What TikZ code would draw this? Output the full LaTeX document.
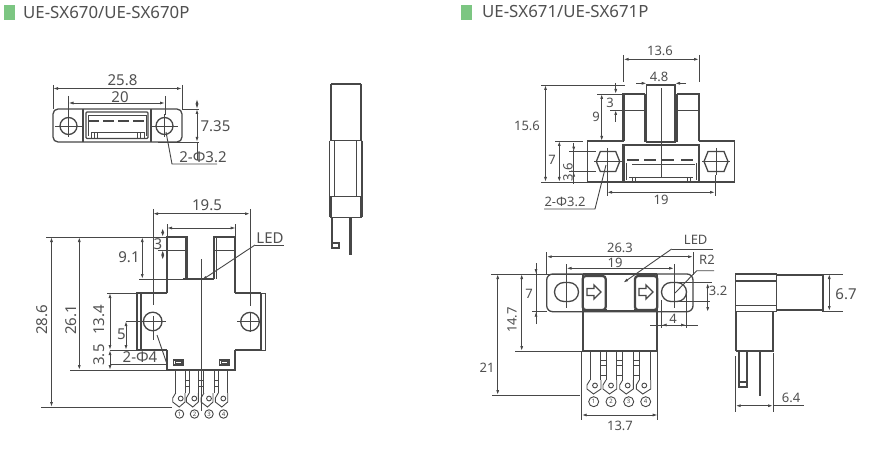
\documentclass[tikz,border=0pt]{standalone}
\usepackage{fontspec}
\setmainfont{Noto Sans}
\usetikzlibrary{arrows.meta}
\definecolor{ink}{HTML}{474747}
\definecolor{txt}{HTML}{505050}
\definecolor{chip}{HTML}{7CC682}
\tikzset{
 thinl/.style={draw=ink,line width=0.9pt},
 midl/.style={draw=ink,line width=1.3pt},
 thick2/.style={draw=ink,line width=2.3pt},
 dimh/.style={draw=ink,line width=0.9pt,{Latex[length=5pt,width=3pt]}-{Latex[length=5pt,width=3pt]}},
 arr/.style={draw=ink,line width=0.9pt,-{Latex[length=5pt,width=3pt]}},
 big/.style={text=txt,font=\fontsize{15}{15}\selectfont,inner sep=0pt},
 small/.style={text=txt,font=\fontsize{13}{13}\selectfont,inner sep=0pt},
 title/.style={text=txt,font=\fontsize{16.8}{17}\selectfont,inner sep=0pt,anchor=west},
 num/.style={circle,draw=ink,line width=0.9pt,inner sep=0pt,minimum size=8.5pt,text=ink,font=\fontsize{6}{6}\selectfont}
}
\newcommand\mkV[3]{\draw[dimh] (#1,#2)--(#1,#3);}
\newcommand\mkH[3]{\draw[dimh] (#2,#1)--(#3,#1);}
\newcommand\lnT[1]{\draw[thinl] #1;}
\newcommand\lnM[1]{\draw[midl] #1;}
\newcommand\lnK[1]{\draw[thick2] #1;}
\newcommand\HoleCross[3]{\draw[midl] (#1,#2) circle (#3);
 \draw[thinl] (#1-#3-5,#2)--(#1+#3+5,#2) (#1,#2-#3-3)--(#1,#2+#3+3);}
\newcommand\SlotShape[4]{% cx cy halfw halfh
 \draw[midl] (#1-#3+4,#2-#4) -- (#1+#3-4,#2-#4) -- (#1+#3,#2) -- (#1+#3-4,#2+#4) -- (#1-#3+4,#2+#4) -- (#1-#3,#2) -- cycle;}
\newcommand\StadShape[4]{\draw[midl,rounded corners=#4pt] (#1-#3,#2-#4) rectangle (#1+#3,#2+#4);}
\newcommand\TipA[3]{% left right ytop : pin end with hole
 \draw[thinl] (#1,#3) -- (#1-3,#3+5) -- (#1-3,#3+9) -- (#1+3.5,#3+14) -- (#2,#3+9) -- (#2,#3);
 \draw[thinl] (#1+5,#3+5.5) circle (2.4);}
\newcommand\BlockArrow[2]{\draw[midl] (#1-7,#2-3.5) -- (#1,#2-3.5) -- (#1,#2-7) -- (#1+7,#2) -- (#1,#2+7) -- (#1,#2+3.5) -- (#1-7,#2+3.5) -- cycle;}
\begin{document}
\begin{tikzpicture}[x=1pt,y=-1pt]
\useasboundingbox[fill=white] (0,0) rectangle (891,449);
% titles
\fill[chip] (4,5) rectangle (15,20);
\node[title] (t1) at (23,12) {UE-SX670/UE-SX670P};
\fill[chip] (461,5) rectangle (472,20);
\node[title] (t2) at (482,12) {UE-SX671/UE-SX671P};

% ===== left top view
\draw[midl,rounded corners=5pt] (53,109) rectangle (182,142);
\lnM{(83,109)--(83,142) (151,109)--(151,142)}
\draw[midl,rounded corners=1pt] (86,112) rectangle (148,138.5);
\lnT{(88,115)--(146,115)--(146,136)}
\lnT{(88,115)--(88,136)}
\foreach \x in {88,103,118,133}{\draw[draw=ink,line width=1.8pt] (\x,121)--(\x+11,121);}
\lnT{(91,132)--(144,132)--(144,138) (91,138)--(91,132) (94,138)--(94,132) (97,138)--(97,132) (137,138)--(137,132) (140,138)--(140,132)}
\HoleCross{68.5}{126}{8.5}
\HoleCross{164.5}{126}{8.5}
\lnT{(53,85)--(53,109) (182,85)--(182,109) (68.5,96)--(68.5,115) (165,96)--(165,115)}
\mkH{88.5}{53}{182}
\mkH{103}{68.5}{165}
\node[big] (a1) at (122.5,80) {25.8};
\node[big] (a2) at (120,97) {20};
\lnT{(182,109)--(199,109) (158,142)--(199,142)}
\mkV{197}{99}{109}\mkV{197}{109}{142}
\lnT{(197,142)--(197,160)}
\node[big] (a3) at (215.5,126) {7.35};
\lnT{(166,132)--(172,164)--(217,164)}
\node[big] (a4) at (203,157) {2-Φ3.2};

% ===== left front view
\lnK{(167,293)--(167,237)--(187,237)--(187,279) (214,279)--(214,237)--(235,237)--(235,293)}
\lnK{(187,279)--(183,279)}
\lnM{(187,279)--(214,279)}
\lnT{(167,250)--(187,250) (214,250)--(235,250) (185,237)--(185,279) (216,237)--(216,279)}
\lnK{(167,350)--(167,370)--(235,370)--(235,350)}
\lnM{(167,293)--(137,293)--(137,350)--(167,350)}
\lnM{(141,293)--(141,350)}
\lnK{(167,293)--(150,293)}
\lnK{(235,293)--(261,293)}
\lnK{(235,350)--(261,350)}
\lnM{(261,293)--(261,350)}
\lnT{(261,293)--(265,293)--(265,350)--(261,350)}
\draw[midl] (152.7,321.5) circle (9.3);
\draw[midl] (250,321.7) circle (9.3);
\lnT{(153,209)--(153,305) (153,316)--(153,340) (250,209)--(250,306) (250,312)--(250,332) (137,321.5)--(166,321.5) (237,321.7)--(262,321.7)}
\mkH{213.7}{153}{250}
\lnT{(167,224)--(167,237) (235.7,224)--(235.7,237)}
\mkH{228}{167}{235.7}
\node[big] (b1) at (207,205) {19.5};
\lnM{(173.5,360) rectangle (183,365) (219.5,360) rectangle (229,365)}
\lnT{(175.5,361.5) rectangle (181,363.5) (221.5,361.5) rectangle (227,363.5)}
\lnT{(201,259)--(201,411)}
% pins
\TipA{175.7}{185}{393}
\TipA{189.3}{198.3}{393}
\TipA{204}{213}{393}
\TipA{218.3}{227.7}{393}
\lnT{(175.7,370)--(175.7,393) (185,370)--(185,393) (189.3,370)--(189.3,393) (198.3,370)--(198.3,393) (203.3,370)--(203.3,393) (214,370)--(214,393) (218.3,370)--(218.3,393) (227.7,370)--(227.7,393)}
\lnT{(185,380)--(189.3,380) (185,386)--(189.3,386) (198.3,380)--(203.3,380) (198.3,386)--(203.3,386) (214,380)--(218.3,380) (214,386)--(218.3,386)}
\node[num] (n1) at (179.5,414) {1};
\node[num] (n2) at (194.5,414) {2};
\node[num] (n3) at (209,414) {3};
\node[num] (n4) at (223.5,414) {4};
% dims
\lnT{(46,237)--(167,237) (41,407)--(172,407) (70,370)--(167,370) (139,279)--(183,279) (107,293)--(137,293) (110,350)--(167,350) (110,364)--(167,364) (126,321)--(143,321)}
\mkV{51.5}{237}{407}
\mkV{79.3}{237}{370}
\mkV{142.3}{237}{279}
\mkV{110}{293}{350}\mkV{110}{350}{370}
\mkV{126}{321}{350}
\mkV{162.7}{228}{237}
\mkV{162.7}{250}{260}
\lnT{(158,250)--(167,250)}
\node[big,rotate=90] (b2) at (42,320) {28.6};
\node[big,rotate=90] (b3) at (71,320) {26.1};
\node[big,rotate=90] (b4) at (99,320) {13.4};
\node[big,rotate=90] (b5) at (99,355) {3.5};
\node[big] (b6) at (129,257) {9.1};
\node[big] (b7) at (158,244) {3};
\node[big] (b8) at (121.5,334) {5};
\node[big] (b9) at (140,357) {2-Φ4};
\lnT{(157,335)--(167,364)}
\node[big] (b10) at (270,238) {LED};
\lnT{(255,245)--(284,245)}
\draw[arr] (255,245)--(202,280);

% ===== side view
\lnK{(331,84)--(361,84)}
\lnK{(331,84)--(331,140)}
\lnM{(361,84)--(361,140)}
\lnM{(330,140.7)--(362,140.7)}
\lnM{(329.5,140.7)--(329.5,217)(362,140.7)--(362,217)}
\lnT{(334.3,140.7)--(334.3,196.7) (356.7,140.7)--(356.7,196.7)}
\lnM{(330,196.7)--(362,196.7)}
\lnK{(331,196.7)--(331,217) (361,196.7)--(361,217)}
\lnM{(330,217.3)--(362,217.3)}
\lnM{(332,217.3)--(332,248)--(339,248)--(339,243)--(332,243)}
\lnK{(350.5,217.3)--(350.5,255)}

% ===== right top view
\lnK{(623.5,141)--(623.5,94)--(645,94) (677,94)--(699,94)--(699,141)}
\lnM{(645,94)--(645,142) (677,94)--(677,142)}
\lnM{(646.7,85)--(675,85)--(675,142)--(646.7,142)--cycle}
\lnT{(623.5,110)--(645,110) (677,110)--(699,110)}
\lnT{(623.5,55)--(623.5,82) (699,55)--(699,82)}
\mkH{59.3}{623.5}{699}
\node[small] (c1) at (660,51) {13.6};
\draw[arr] (636,83.3)--(646.7,83.3);
\draw[arr] (686,83.3)--(675,83.3);
\node[small] (c2) at (659,77) {4.8};
\lnM{(587.3,141)--(623.5,141) (699,141)--(734.7,141)--(734.7,182)--(587.3,182)--(587.3,141)}
\lnK{(623.5,145)--(699,145)--(699,182)--(623.5,182)--cycle}
\lnT{(626,163)--(626,180) (696,163)--(696,180)}
\foreach \x in {627,644,662,681}{\draw[draw=ink,line width=1.8pt] (\x,160)--(\x+12,160);}
\lnT{(632,164)--(695,164) (629,177)--(693,177) (632,177)--(632,181) (635,177)--(635,181) (687,177)--(687,181) (690,177)--(690,181)}
\SlotShape{608}{161.5}{11.7}{10}
\SlotShape{716}{161.5}{12}{10}
\lnT{(594,161.5)--(622,161.5) (702,161.5)--(730,161.5) (716,148)--(716,175)}
\lnT{(607,148)--(607,196) (715,175)--(715,196)}
\mkH{192.3}{607}{715}
\node[small] (c3) at (661,200) {19};
\lnT{(661,88)--(661,178)}
\lnT{(541,85)--(625,85) (541,182)--(587,182) (597,94)--(623,94) (610,110)--(623,110) (555,141)--(583,141) (569,151.7)--(596,151.7) (569,171.7)--(596,171.7)}
\mkV{545.5}{85}{182}
\mkV{601.7}{94}{141}
\draw[arr] (615.7,83)--(615.7,94);
\draw[arr] (615.7,122)--(615.7,110);
\mkV{559.3}{141}{182}
\lnT{(573.7,150)--(573.7,184)}
\draw[arr] (573.7,143)--(573.7,151.7);
\draw[arr] (573.7,184)--(573.7,171.7);
\node[small] (c4) at (527,126) {15.6};
\node[small] (c5) at (596,117) {9};
\node[small] (c6) at (610,103) {3};
\node[small] (c7) at (552,160) {7};
\node[small,rotate=90] (c8) at (568,172) {3.6};
\node[small] (c9) at (565,202) {2-Φ3.2};
\lnT{(544,209)--(595,209)--(606,165)}

% ===== right front view
\draw[midl,rounded corners=6pt] (546.7,274) rectangle (693,311.7);
\lnK{(582.7,274)--(582.7,351)--(657.3,351)--(657.3,274)}
\lnK{(582.7,274)--(657.3,274)}
\fill[white] (606.5,272.5) rectangle (634.2,275);
\lnM{(606,274)--(635,274)}
\lnK{(582.7,310)--(657.3,310)}
\fill[white] (607,309) rectangle (634,311);
\lnM{(607,311)--(634,311)}
\draw[thick2,rounded corners=3pt] (582.7,276) rectangle (605.7,310);
\draw[thick2,rounded corners=3pt] (635,276) rectangle (657.3,310);
\BlockArrow{594}{292}
\BlockArrow{646}{292}
\StadShape{566.5}{292}{12}{9.5}
\StadShape{674}{292}{12.5}{9.5}
\lnT{(566.5,278)--(566.5,308) (674,278)--(674,308)}
\lnT{(546.7,252)--(546.7,275) (693,252)--(693,275) (566.5,264)--(566.5,278) (674,264)--(674,278)}
\mkH{256.7}{546.7}{693}
\mkH{268.3}{566.5}{674}
\node[small] (d1) at (620,248) {26.3};
\node[small] (d2) at (615,262.7) {19};
\node[small] (d3) at (695.7,240) {LED};
\lnT{(671.7,249)--(712.7,249)}
\draw[arr] (671.7,249)--(623.3,282.7);
\node[small] (d4) at (707,260) {R2};
\lnT{(714,270.7)--(696.7,270.7)--(675,293)}
\lnT{(674,282.7)--(712,282.7) (674,301.7)--(710,301.7)}
\mkV{707.7}{283}{312}
\node[small] (d5) at (718,291) {3.2};
\lnT{(661.7,300)--(661.7,328) (686,290)--(686,328) (650,325)--(698,325)}
\mkH{325}{661.7}{686}
\node[small] (d6) at (673,319) {4};
\lnT{(536,263)--(536,324) (532,311.7)--(547,311.7)}
\draw[arr] (536,263)--(536,274);
\draw[arr] (536,324)--(536,311.7);
\node[small] (d7) at (529,294) {7};
\lnT{(491,274)--(582,274) (515,351)--(582,351) (492,395)--(580,395)}
\mkV{521.7}{274}{351}
\mkV{497.7}{274}{395}
\node[small,rotate=90] (d8) at (512,320) {14.7};
\node[small] (d9) at (487,368) {21};
% pins
\TipA{590}{601}{380}
\TipA{606}{616.7}{380}
\TipA{622.7}{633.3}{380}
\TipA{639.3}{650.7}{380}
\lnT{(590,352)--(590,380) (600.7,352)--(600.7,380) (606,352)--(606,380) (616.7,352)--(616.7,380) (622.7,352)--(622.7,380) (633.3,352)--(633.3,380) (639.3,352)--(639.3,380) (650.7,352)--(650.7,380)}
\foreach \y in {360,365,375}{\lnT{(600.7,\y)--(606,\y) (616.7,\y)--(622.7,\y) (633.3,\y)--(639.3,\y)}}
\node[num,minimum size=10pt] (m1) at (593.7,401.7) {1};
\node[num,minimum size=10pt] (m2) at (611,401.7) {2};
\node[num,minimum size=10pt] (m3) at (628.7,401.7) {3};
\node[num,minimum size=10pt] (m4) at (645.7,401.7) {4};
\lnT{(581.7,352)--(581.7,420) (657.7,352)--(657.7,420)}
\mkH{415}{581.7}{657.7}
\node[small] (d10) at (620,426) {13.7};

% ===== right side view
\lnM{(735.7,274)--(776.7,274)--(776.7,311.7)--(735.7,311.7)--cycle}
\lnK{(735.7,280.7)--(776.7,280.7)}
\lnT{(735.7,305)--(776.7,305)}
\lnK{(776.7,275)--(822.7,275)--(822.7,310)--(776.7,310)}
\lnM{(736,312)--(736,351)}
\lnK{(772.7,311)--(772.7,351)--(735.5,351)}
\lnM{(739,351)--(739,387)--(747,387)--(747,351) (739,382)--(747,382)}
\lnK{(760,351)--(760,396)}
\lnT{(822,274)--(843,274) (822,311)--(843,311)}
\mkV{829.3}{274}{311}
\node[big] (e1) at (846,294) {6.7};
\lnT{(735.7,356)--(735.7,412) (773,353)--(773,412) (773,405.7)--(804,405.7)}
\mkH{405.7}{735.7}{773}
\node[small] (e2) at (791,398) {6.4};
\end{tikzpicture}
\end{document}
